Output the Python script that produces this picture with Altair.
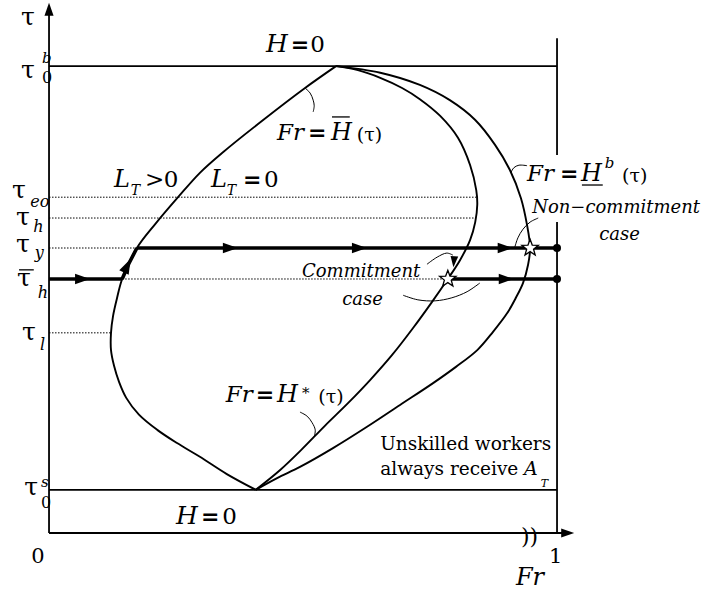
import math
import altair as alt
import pandas as pd

# ---- levels marked on the tau axis ----
TAU_0S = 0.085   # tau_0^s
TAU_L = 0.394    # tau_l
TAU_HB = 0.500   # bar tau_h
TAU_Y = 0.561    # tau_y
TAU_H = 0.620    # tau_h
TAU_EO = 0.661   # tau_eo
TAU_0B = 0.919   # tau_0^b

# ---- Fr = H-bar(tau): left boundary (from the top meeting point down to the bottom one) ----
hbar_fr = [0.565, 0.504, 0.419, 0.343, 0.297, 0.254, 0.209, 0.173, 0.144, 0.134,
           0.126, 0.122, 0.122, 0.128, 0.138, 0.152, 0.177, 0.213, 0.252, 0.297,
           0.350, 0.407]
hbar_tau = [0.919, 0.876, 0.811, 0.750, 0.709, 0.661, 0.608, 0.561, 0.500, 0.463,
            0.427, 0.394, 0.360, 0.329, 0.297, 0.266, 0.233, 0.203, 0.177, 0.150,
            0.116, 0.085]

# ---- Fr = H*(tau) ----
hstar_fr = [0.565, 0.608, 0.652, 0.695, 0.730, 0.770, 0.805, 0.829, 0.841, 0.843,
            0.839, 0.829, 0.809, 0.785, 0.754, 0.717, 0.675, 0.632, 0.589, 0.543,
            0.498, 0.455, 0.407]
hstar_tau = [0.919, 0.911, 0.896, 0.876, 0.854, 0.821, 0.778, 0.724, 0.675, 0.646,
             0.612, 0.577, 0.537, 0.500, 0.455, 0.404, 0.350, 0.301, 0.256, 0.211,
             0.165, 0.124, 0.085]

# ---- Fr = H^b(tau) ----
hb_fr = [0.565, 0.652, 0.730, 0.789, 0.839, 0.878, 0.907, 0.929, 0.941, 0.947,
         0.943, 0.933, 0.919, 0.902, 0.874, 0.843, 0.801, 0.756, 0.691, 0.626,
         0.559, 0.494, 0.449, 0.407]
hb_tau = [0.919, 0.906, 0.882, 0.852, 0.813, 0.764, 0.715, 0.659, 0.606, 0.561,
          0.528, 0.492, 0.463, 0.433, 0.396, 0.360, 0.327, 0.295, 0.252, 0.209,
          0.167, 0.130, 0.108, 0.085]

# equilibria
commit_pt = (0.785, TAU_HB)
noncommit_pt = (0.947, TAU_Y)

# leader arcs joining labels to curves
leaders = {
    "hbar": ([0.504, 0.514, 0.520, 0.522, 0.520], [0.876, 0.866, 0.852, 0.841, 0.829]),
    "hb": ([0.909, 0.915, 0.925, 0.941], [0.709, 0.719, 0.724, 0.723]),
    "hstar": ([0.494, 0.508, 0.518, 0.524, 0.522], [0.238, 0.230, 0.217, 0.203, 0.189]),
    "noncommit": ([0.917, 0.923, 0.933, 0.947, 0.963], [0.563, 0.581, 0.598, 0.612, 0.620]),
    "commit_up": ([0.744, 0.764, 0.783, 0.795], [0.529, 0.543, 0.551, 0.547]),
    "commit_low": ([0.697, 0.726, 0.760, 0.793, 0.823, 0.848], [0.468, 0.459, 0.457, 0.463, 0.475, 0.492]),
}

# text pieces: (text, Fr, tau, font size); left-aligned on the baseline
italic_labels = [
    ("H", 0.427, 0.947, 25), ("H", 0.250, 0.018, 25),
    ("L", 0.128, 0.681, 24), ("L", 0.319, 0.681, 24),
    ("Fr", 0.449, 0.774, 23), ("H", 0.555, 0.774, 24),
    ("Fr", 0.941, 0.693, 23), ("H", 1.047, 0.693, 24),
    ("Fr", 0.348, 0.258, 23), ("H", 0.449, 0.258, 24),
    ("Non\u2212commitment", 0.951, 0.630, 18), ("case", 1.083, 0.577, 18),
    ("Commitment", 0.498, 0.504, 18), ("case", 0.577, 0.449, 18),
    ("A", 0.935, 0.114, 19), ("Fr", 0.919, -0.102, 24),
    ("T", 0.161, 0.665, 14), ("T", 0.350, 0.665, 14),
    ("b", 1.094, 0.719, 15), ("T", 0.968, 0.091, 11),
    ("b", -0.014, 0.925, 15), ("eo", -0.037, 0.642, 16),
    ("h", -0.031, 0.593, 16), ("y", -0.028, 0.541, 16),
    ("h", -0.022, 0.463, 16), ("l", -0.018, 0.360, 16),
    ("s", -0.016, 0.091, 15),
]
upright_labels = [
    ("0", 0.514, 0.947, 23), ("0", 0.341, 0.018, 23),
    (">", 0.189, 0.681, 23), ("0", 0.226, 0.681, 23), ("0", 0.423, 0.681, 23),
    ("(\u03c4)", 0.606, 0.772, 19), ("(\u03c4)", 1.128, 0.691, 19), ("(\u03c4)", 0.530, 0.256, 19),
    ("*", 0.498, 0.266, 15),
    ("Unskilled workers", 0.652, 0.163, 18.5), ("always receive", 0.652, 0.114, 18.5),
    ("0", -0.035, -0.059, 21), ("1", 0.984, -0.059, 21), ("))", 0.929, -0.022, 22),
    ("0", -0.014, 0.886, 16), ("0", -0.016, 0.049, 16),
]
tau_labels = [
    ("\u03c4", -0.055, 1.000), ("\u03c4", -0.055, 0.896), ("\u03c4", -0.073, 0.659),
    ("\u03c4", -0.065, 0.606), ("\u03c4", -0.065, 0.553), ("\u03c4", -0.063, 0.486),
    ("\u03c4", -0.053, 0.380), ("\u03c4", -0.049, 0.075),
]
equals_at = [(0.476, 0.947), (0.299, 0.018), (0.382, 0.681),
             (0.510, 0.774), (1.006, 0.693), (0.407, 0.258)]
# over/under bars of H-bar, H^b and tau-bar
bars = {
    "H_over": ([0.557, 0.592], [0.819, 0.819]),
    "H_under": ([1.049, 1.090], [0.685, 0.685]),
    "tau_over": ([-0.059, -0.030], [0.518, 0.518]),
}

# ---------------- build the layers ----------------
XS = alt.Scale(domain=[-0.0965, 1.3031], nice=False, zero=False)
YS = alt.Scale(domain=[-0.1142, 1.0492], nice=False, zero=False)
X = alt.X("fr:Q", scale=XS, axis=None)
Y = alt.Y("tau:Q", scale=YS, axis=None)


def paths(items):
    rows = []
    for name, (frs, taus) in items.items():
        for k, (f, t) in enumerate(zip(frs, taus)):
            rows.append({"id": name, "k": k, "fr": f, "tau": t})
    return pd.DataFrame(rows)


def line_layer(items, interp="linear", width=1.7, dash=None):
    kw = dict(color="black", strokeWidth=width, interpolate=interp, strokeCap="butt")
    if dash:
        kw["strokeDash"] = dash
    return alt.Chart(paths(items)).mark_line(**kw).encode(
        x=X, y=Y, detail="id:N", order="k:Q")


curves = line_layer({
    "hbar": (hbar_fr, hbar_tau),
    "hstar": (hstar_fr, hstar_tau),
    "hb": (hb_fr, hb_tau),
}, interp="catmull-rom", width=1.9)

frame = line_layer({
    "yaxis": ([0, 0], [0, 1.031]),
    "xaxis": ([0, 1.021], [0, 0]),
    "t0b": ([0, 1], [TAU_0B, TAU_0B]),
    "t0s": ([0, 1], [TAU_0S, TAU_0S]),
    "right_low": ([1, 1], [0, 0.612]),
    "right_up": ([1, 1], [0.744, 0.974]),
}, width=1.8)

dotted = line_layer({
    "eo": ([0, 0.841], [TAU_EO, TAU_EO]),
    "h": ([0, 0.840], [TAU_H, TAU_H]),
    "y": ([0, 0.173], [TAU_Y, TAU_Y]),
    "hb": ([0.144, commit_pt[0]], [TAU_HB, TAU_HB]),
    "l": ([0, 0.122], [TAU_L, TAU_L]),
}, width=1.0, dash=[1.5, 1.5])

thick = line_layer({
    "hb_in": ([0, 0.144], [TAU_HB, TAU_HB]),
    "climb": ([0.144, 0.157, 0.173], [TAU_HB, 0.530, TAU_Y]),
    "y_path": ([0.173, 1], [TAU_Y, TAU_Y]),
    "hb_out": ([commit_pt[0], 1], [TAU_HB, TAU_HB]),
}, width=3.6)

leader_lines = line_layer(leaders, interp="catmull-rom", width=1.0)
bar_lines = line_layer(bars, width=1.3)

ARROW = "M-1,-0.7L1,0L-1,0.7Z"
arrows_df = pd.DataFrame(
    [(0.066, TAU_HB, 0, 225), (0.357, TAU_Y, 0, 225), (0.611, TAU_Y, 0, 225),
     (0.898, TAU_Y, 0, 225), (0.900, TAU_HB, 0, 225), (0.154, 0.526, 296, 225),
     (0.797, 0.534, 95, 121), (1.021, 0.0, 0, 170), (0.0, 1.031, 270, 170)],
    columns=["fr", "tau", "ang", "s"])
arrows = alt.Chart(arrows_df).mark_point(
    shape=ARROW, filled=True, color="black", opacity=1, strokeWidth=0).encode(
    x=X, y=Y, angle=alt.Angle("ang:Q", scale=None), size=alt.Size("s:Q", scale=None))

dots = alt.Chart(pd.DataFrame({"fr": [1, 1], "tau": [TAU_Y, TAU_HB]})).mark_point(
    shape="circle", filled=True, color="black", opacity=1, size=64).encode(x=X, y=Y)

star_pts = []
for i in range(10):
    r = 1.0 if i % 2 == 0 else 0.42
    a = math.radians(-90 + 36 * i)
    star_pts.append(f"{r * math.cos(a):.3f},{r * math.sin(a):.3f}")
STAR = "M" + "L".join(star_pts) + "Z"
stars = alt.Chart(pd.DataFrame({"fr": [commit_pt[0], noncommit_pt[0]],
                                "tau": [commit_pt[1], noncommit_pt[1]]})).mark_point(
    shape=STAR, filled=False, fill="white", fillOpacity=1, stroke="black",
    strokeWidth=1.3, opacity=1, size=300).encode(x=X, y=Y)


def text_layer(rows, size=None, **style):
    if size is None:
        df = pd.DataFrame(rows, columns=["t", "fr", "tau", "s"])
    else:
        df = pd.DataFrame([(r[0], r[1], r[2], size) for r in rows],
                          columns=["t", "fr", "tau", "s"])
    return alt.Chart(df).mark_text(
        font="DejaVu Serif", align="left", baseline="alphabetic", color="black",
        **style).encode(x=X, y=Y, text="t:N", size=alt.Size("s:Q", scale=None))


t_italic = text_layer(italic_labels, fontStyle="italic")
t_upright = text_layer(upright_labels)
t_tau = text_layer(tau_labels, size=25)
t_eq = text_layer([("=", f, t) for f, t in equals_at], size=22, fontWeight="bold")

chart = alt.layer(
    frame, dotted, curves, leader_lines, thick, bar_lines, arrows, dots, stars,
    t_italic, t_upright, t_tau, t_eq,
).properties(
    width=711, height=591, padding=0,
    autosize=alt.AutoSizeParams(type="none"),
    background="white",
).configure_view(stroke=None)

chart.save("out.html", embed_options={"renderer": "svg", "actions": False})
